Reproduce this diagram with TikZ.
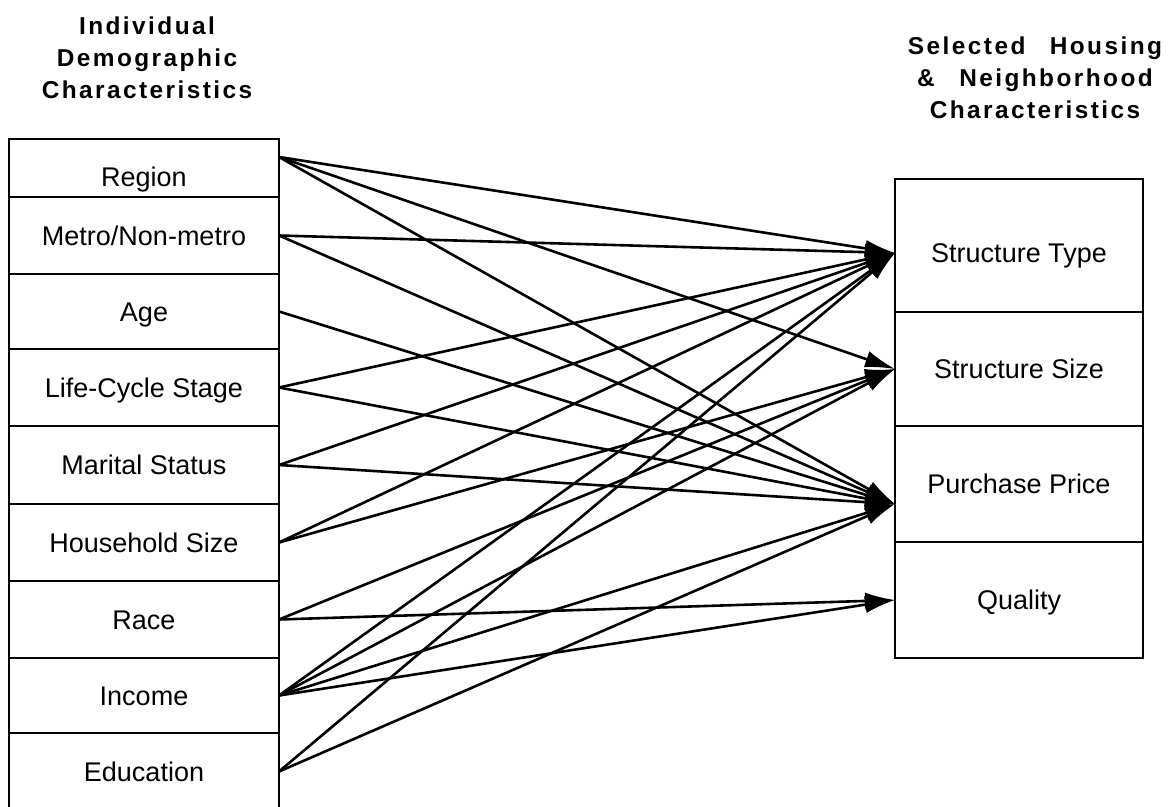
\documentclass[tikz,border=0pt]{standalone}
\usepackage{fontspec}
\setmainfont{Liberation Sans}
\newfontfamily\titlefont[LetterSpace=10]{Liberation Sans}
\usetikzlibrary{arrows.meta}

\begin{document}
\begin{tikzpicture}[
    x=0.5pt, y=-0.5pt,
    leftbox/.style={rectangle, draw, line width=1.4pt, minimum width=135pt, inner sep=0pt, outer sep=0pt, text height=9.7pt, text depth=0pt, font=\fontsize{13.5}{16}\selectfont},
    rightbox/.style={leftbox, minimum width=124pt},
    heading/.style={align=center, font=\titlefont\bfseries\fontsize{12.2}{16}\selectfont},
    arrow/.style={-{Latex[length=15pt, width=8.5pt]}, line width=1.3pt}
]
    \useasboundingbox (0,0) rectangle (1171,807);

    % headings
    \node[heading] (lefttitle) at (147, 58) {Individual\\Demographic\\Characteristics};
    \node[heading] (righttitle) at (1035, 78) {Selected\quad Housing\\\&\quad Neighborhood\\Characteristics};

    % individual characteristics
    \node[leftbox, minimum height=29pt, text height=18.7pt] (region) at (144, 168) {Region};
    \node[leftbox, minimum height=38.5pt] (metro) at (144, 235.5) {Metro/Non-metro};
    \node[leftbox, minimum height=37.5pt] (age) at (144, 311.5) {Age};
    \node[leftbox, minimum height=38.5pt] (lifecycle) at (144, 387.5) {Life-Cycle Stage};
    \node[leftbox, minimum height=39pt] (marital) at (144, 465) {Marital Status};
    \node[leftbox, minimum height=38.5pt] (household) at (144, 542.5) {Household Size};
    \node[leftbox, minimum height=38.5pt] (race) at (144, 619.5) {Race};
    \node[leftbox, minimum height=37.5pt] (income) at (144, 695.5) {Income};
    \node[leftbox, minimum height=38.5pt] (education) at (144, 771.5) {Education};

    % housing characteristics
    \node[rightbox, minimum height=66.5pt, text height=16.7pt] (stype) at (1019, 245.5) {Structure Type};
    \node[rightbox, minimum height=57pt] (ssize) at (1019, 369) {Structure Size};
    \node[rightbox, minimum height=58pt] (pprice) at (1019, 484) {Purchase Price};
    \node[rightbox, minimum height=58pt] (quality) at (1019, 600) {Quality};

    % arrows
    \draw[arrow] ([yshift=-9pt]region.north east) -- ([yshift=-3.75pt]stype.west);
    \draw[arrow] ([yshift=-9pt]region.north east) -- (ssize.west);
    \draw[arrow] ([yshift=-9pt]region.north east) -- ([yshift=-10pt]pprice.west);
    \draw[arrow] (metro.east) -- ([yshift=-3.75pt]stype.west);
    \draw[arrow] (metro.east) -- ([yshift=-10pt]pprice.west);
    \draw[arrow] (age.east) -- ([yshift=-10pt]pprice.west);
    \draw[arrow] (lifecycle.east) -- ([yshift=-3.75pt]stype.west);
    \draw[arrow] (lifecycle.east) -- ([yshift=-10pt]pprice.west);
    \draw[arrow] (marital.east) -- ([yshift=-3.75pt]stype.west);
    \draw[arrow] (marital.east) -- ([yshift=-10pt]pprice.west);
    \draw[arrow] (household.east) -- ([yshift=-3.75pt]stype.west);
    \draw[arrow] (household.east) -- (ssize.west);
    \draw[arrow] (race.east) -- (ssize.west);
    \draw[arrow] (race.east) -- (quality.west);
    \draw[arrow] (income.east) -- ([yshift=-3.75pt]stype.west);
    \draw[arrow] (income.east) -- (ssize.west);
    \draw[arrow] (income.east) -- ([yshift=-10pt]pprice.west);
    \draw[arrow] (income.east) -- (quality.west);
    \draw[arrow] (education.east) -- ([yshift=-3.75pt]stype.west);
    \draw[arrow] (education.east) -- ([yshift=-10pt]pprice.west);
\end{tikzpicture}
\end{document}
